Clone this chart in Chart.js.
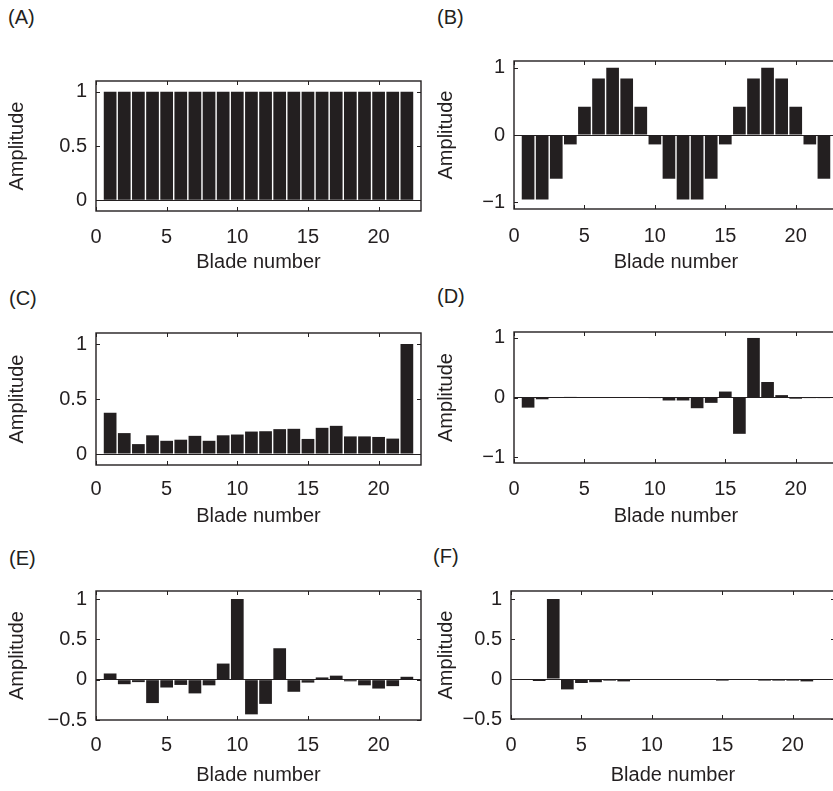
<!DOCTYPE html>
<html>
<head>
<meta charset="utf-8">
<script src="https://cdn.jsdelivr.net/npm/chart.js@4.4.1/dist/chart.umd.min.js"></script>
<style>
  html, body { margin: 0; padding: 0; background: #fff; }
  body { width: 833px; height: 791px; position: relative; overflow: hidden; }
  canvas { position: absolute; }
  .lbl { position: absolute; font: 20px "Liberation Sans", Arial, sans-serif; color: #231f20; line-height: 20px; }
</style>
</head>
<body>
<script>
const FONT = '"Liberation Sans", Arial, sans-serif';
const INK = '#231f20';

const BLADES = [1, 2, 3, 4, 5, 6, 7, 8, 9, 10, 11, 12, 13, 14, 15, 16, 17, 18, 19, 20, 21, 22];
const X_TICKS = [0, 5, 10, 15, 20];

const AMP_A = [1, 1, 1, 1, 1, 1, 1, 1, 1, 1, 1, 1, 1, 1, 1, 1, 1, 1, 1, 1, 1, 1];
const AMP_B = [-0.96, -0.96, -0.65, -0.14, 0.42, 0.84, 1, 0.84, 0.42, -0.14, -0.65,
               -0.96, -0.96, -0.65, -0.14, 0.42, 0.84, 1, 0.84, 0.42, -0.14, -0.65];
const AMP_C = [0.375, 0.19, 0.09, 0.17, 0.12, 0.13, 0.165, 0.12, 0.17, 0.177, 0.204,
               0.207, 0.226, 0.229, 0.137, 0.238, 0.256, 0.16, 0.16, 0.155, 0.14, 1.0];
const AMP_D = [-0.17, -0.03, 0, 0.01, 0, 0, -0.005, -0.005, -0.005, -0.01, -0.05,
               -0.05, -0.18, -0.09, 0.1, -0.61, 1.0, 0.26, 0.04, -0.02, -0.01, -0.01];
const AMP_E = [0.077, -0.056, -0.03, -0.29, -0.097, -0.065, -0.17, -0.07, 0.2, 1.0, -0.43,
               -0.3, 0.39, -0.15, -0.036, 0.028, 0.05, -0.02, -0.07, -0.11, -0.08, 0.036];
const AMP_F = [-0.005, -0.025, 1.0, -0.13, -0.05, -0.04, -0.02, -0.03, -0.01, -0.01, -0.01,
               -0.01, -0.01, -0.01, -0.02, -0.01, -0.01, -0.02, -0.02, -0.02, -0.03, -0.01];

const Y_TICKS_A = [0, 0.5, 1];
const Y_TICKS_B = [-1, 0, 1];
const Y_TICKS_C = [0, 0.5, 1];
const Y_TICKS_D = [-1, 0, 1];
const Y_TICKS_E = [-0.5, 0, 0.5, 1];
const Y_TICKS_F = [-0.5, 0, 0.5, 1];

const X_RANGE = [0, 23];
const Y_RANGE_A = [-0.1, 1.1];
const Y_RANGE_B = [-1.1, 1.1];
const Y_RANGE_C = [-0.1, 1.1];
const Y_RANGE_D = [-1.1, 1.1];
const Y_RANGE_E = [-0.5, 1.1];
const Y_RANGE_F = [-0.5, 1.1];

// placement of each panel on the page (plot box edges, label centres)
const PANELS = [
  { name: '(A)', amp: AMP_A, yt: Y_TICKS_A, yr: Y_RANGE_A, cx: 0,   cy: 40,  cw: 426, l: 96,  t: 81,  r: 421, b: 211, tickY: 237, titleY: 262, ylabX: 17,  lx: 8,   ly: 17 },
  { name: '(B)', amp: AMP_B, yt: Y_TICKS_B, yr: Y_RANGE_B, cx: 420, cy: 40,  cw: 420, l: 514, t: 60,  r: 838, b: 209, tickY: 236, titleY: 262, ylabX: 446, lx: 437, ly: 17 },
  { name: '(C)', amp: AMP_C, yt: Y_TICKS_C, yr: Y_RANGE_C, cx: 0,   cy: 310, cw: 426, l: 96,  t: 333, r: 421, b: 465, tickY: 489, titleY: 516, ylabX: 17,  lx: 9,   ly: 298 },
  { name: '(D)', amp: AMP_D, yt: Y_TICKS_D, yr: Y_RANGE_D, cx: 420, cy: 310, cw: 420, l: 514, t: 332, r: 838, b: 463, tickY: 489, titleY: 516, ylabX: 446, lx: 437, ly: 296 },
  { name: '(E)', amp: AMP_E, yt: Y_TICKS_E, yr: Y_RANGE_E, cx: 0,   cy: 570, cw: 426, l: 96,  t: 588, r: 421, b: 720, tickY: 745, titleY: 775, ylabX: 17,  lx: 9,   ly: 558 },
  { name: '(F)', amp: AMP_F, yt: Y_TICKS_F, yr: Y_RANGE_F, cx: 420, cy: 570, cw: 420, l: 511, t: 588, r: 835, b: 719, tickY: 745, titleY: 775, ylabX: 446, lx: 433, ly: 556 }
];

const FS = 20;
const LH = FS * 1.2;

function fmt(v) {
  return v < 0 ? '\u2212' + Math.abs(v) : String(v);
}

// plot frame with inward tick marks, like the original
const frame = {
  id: 'frame',
  afterDatasetsDraw(chart) {
    const { ctx, chartArea: a, scales: { x, y } } = chart;
    ctx.save();
    ctx.strokeStyle = INK;
    ctx.lineWidth = 1.4;
    ctx.strokeRect(a.left, a.top, a.right - a.left, a.bottom - a.top);
    ctx.lineWidth = 1;
    ctx.beginPath();
    x.ticks.forEach(tk => {
      const px = Math.round(x.getPixelForValue(tk.value)) + 0.5;
      ctx.moveTo(px, a.bottom); ctx.lineTo(px, a.bottom - 4);
      ctx.moveTo(px, a.top); ctx.lineTo(px, a.top + 4);
    });
    y.ticks.forEach(tk => {
      const py = Math.round(y.getPixelForValue(tk.value)) + 0.5;
      ctx.moveTo(a.left, py); ctx.lineTo(a.left + 4, py);
      ctx.moveTo(a.right, py); ctx.lineTo(a.right - 4, py);
    });
    ctx.stroke();
    ctx.restore();
  }
};

PANELS.forEach(p => {
  const lab = document.createElement('div');
  lab.className = 'lbl';
  lab.textContent = p.name;
  lab.style.left = p.lx + 'px';
  lab.style.top = (p.ly - 10) + 'px';
  document.body.appendChild(lab);

  const bottom = p.titleY + 14;
  const ch = bottom - p.cy;
  const cv = document.createElement('canvas');
  cv.width = p.cw; cv.height = ch;
  cv.style.left = p.cx + 'px'; cv.style.top = p.cy + 'px';
  cv.style.width = p.cw + 'px'; cv.style.height = ch + 'px';
  document.body.appendChild(cv);

  new Chart(cv.getContext('2d'), {
    type: 'bar',
    data: {
      datasets: [{
        data: BLADES.map((b, i) => ({ x: b, y: p.amp[i] })),
        backgroundColor: INK,
        borderWidth: 0,
        barPercentage: 0.9,
        categoryPercentage: 1
      }]
    },
    options: {
      responsive: false,
      animation: false,
      devicePixelRatio: 1,
      layout: { padding: { top: p.t - p.cy, right: p.cx + p.cw - p.r, left: 0, bottom: 0 } },
      plugins: { legend: { display: false }, tooltip: { enabled: false } },
      scales: {
        x: {
          type: 'linear',
          min: X_RANGE[0], max: X_RANGE[1],
          offset: false,
          afterBuildTicks: s => { s.ticks = X_TICKS.map(v => ({ value: v })); },
          afterFit: s => { s.height = bottom - p.b; },
          grid: { display: false, drawTicks: false },
          border: { display: false },
          ticks: { color: INK, font: { family: FONT, size: FS }, padding: p.tickY - p.b - 11.5, maxRotation: 0, autoSkip: false, callback: fmt },
          title: { display: true, text: 'Blade number', color: INK, font: { family: FONT, size: FS }, padding: { top: 0, bottom: 14 - LH / 2 } }
        },
        y: {
          min: p.yr[0], max: p.yr[1],
          afterBuildTicks: s => { s.ticks = p.yt.map(v => ({ value: v })); },
          afterFit: s => { s.width = p.l - p.cx; },
          grid: { drawTicks: false, lineWidth: 1, color: c => (c.tick && c.tick.value === 0 ? INK : 'rgba(0,0,0,0)') },
          border: { display: false },
          ticks: { color: INK, font: { family: FONT, size: FS }, padding: 9, callback: fmt },
          title: { display: true, text: 'Amplitude', color: INK, font: { family: FONT, size: FS }, padding: { top: p.ylabX - p.cx - LH / 2, bottom: 0 } }
        }
      }
    },
    plugins: [frame]
  });
});
</script>
</body>
</html>
